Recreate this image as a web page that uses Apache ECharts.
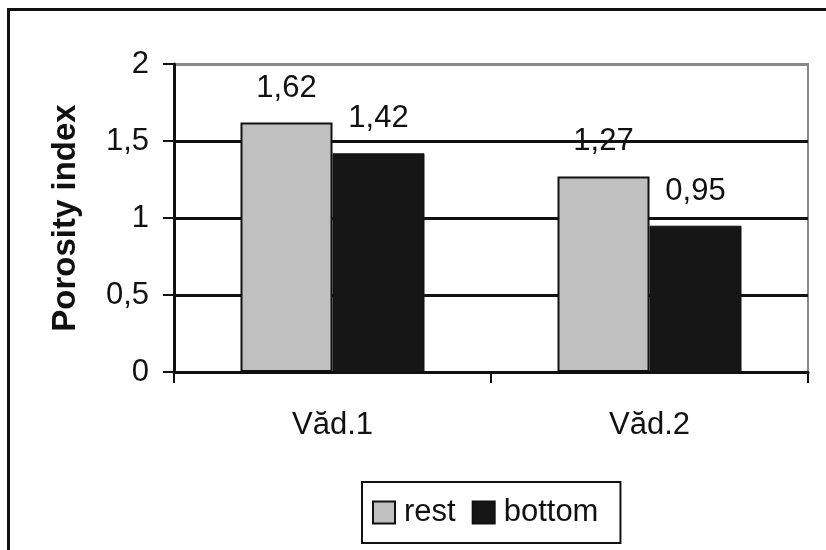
<!DOCTYPE html>
<html>
<head>
<meta charset="utf-8">
<script src="https://cdn.jsdelivr.net/npm/echarts@6/dist/echarts.min.js"></script>
<style>
html,body{margin:0;padding:0;background:#fff;}
#chart{width:826px;height:550px;}
</style>
</head>
<body>
<div id="chart"></div>
<script>
const categories = ['Văd.1', 'Văd.2'];
const restValues = [1.62, 1.27];
const bottomValues = [1.42, 0.95];
const seriesNames = ['rest', 'bottom'];
const yTicks = { min: 0, max: 2, interval: 0.5 };
const yAxisTitle = 'Porosity index';

const FONT = '"Liberation Sans", Arial, sans-serif';
const fmt = v => String(v).replace('.', ',');

const chart = echarts.init(document.getElementById('chart'), null, { renderer: 'canvas' });
chart.setOption({
  animation: false,
  backgroundColor: '#fff',
  textStyle: { fontFamily: FONT },
  grid: {
    left: 174, right: 18, top: 64, bottom: 178,
    show: true, borderColor: '#888', borderWidth: 2, backgroundColor: 'transparent'
  },
  legend: {
    data: seriesNames,
    left: 362, top: 482,
    orient: 'horizontal',
    itemWidth: 22, itemHeight: 22, itemGap: 16,
    padding: [15, 22, 15, 10],
    borderColor: '#111', borderWidth: 2,
    icon: 'rect',
    textStyle: { fontSize: 31, color: '#111', fontFamily: FONT, padding: [0, 0, 0, 4] }
  },
  xAxis: {
    type: 'category',
    data: categories,
    axisLine: { lineStyle: { color: '#111', width: 3 } },
    axisTick: { show: true, inside: false, length: 11, lineStyle: { color: '#111', width: 2 } },
    axisLabel: { fontSize: 31, color: '#111', margin: 38, fontFamily: FONT },
    splitLine: { show: false }
  },
  yAxis: {
    type: 'value',
    min: yTicks.min, max: yTicks.max, interval: yTicks.interval,
    name: yAxisTitle,
    nameLocation: 'middle',
    nameGap: 92,
    nameTextStyle: { fontSize: 33, fontWeight: 'bold', color: '#111', fontFamily: FONT },
    axisLine: { show: true, lineStyle: { color: '#111', width: 3 } },
    axisTick: { show: true, inside: false, length: 11, lineStyle: { color: '#111', width: 2 } },
    axisLabel: { fontSize: 31, color: '#111', margin: 25, formatter: v => fmt(v), fontFamily: FONT },
    splitLine: { show: true, lineStyle: { color: ['#111', '#111', '#111', '#111', '#888'], width: 3 } }
  },
  series: [
    {
      name: seriesNames[0], type: 'bar', data: restValues,
      barWidth: 92, barGap: '0%',
      itemStyle: { color: '#c0c0c0', borderColor: '#111', borderWidth: 2 },
      label: { show: true, position: 'top', distance: 19, fontSize: 31, color: '#111', fontFamily: FONT,
               formatter: p => fmt(p.value) }
    },
    {
      name: seriesNames[1], type: 'bar', data: bottomValues,
      barWidth: 92, barGap: '0%',
      itemStyle: { color: '#161616', borderColor: '#111', borderWidth: 1 },
      label: { show: true, position: 'top', distance: 19, fontSize: 31, color: '#111', fontFamily: FONT,
               formatter: p => fmt(p.value) }
    }
  ],
  graphic: [
    { type: 'line', shape: { x1: 8.5, y1: 9, x2: 8.5, y2: 550 }, style: { stroke: '#111', lineWidth: 3 } },
    { type: 'line', shape: { x1: 7, y1: 9.5, x2: 826, y2: 9.5 }, style: { stroke: '#111', lineWidth: 3 } }
  ]
});
</script>
</body>
</html>
